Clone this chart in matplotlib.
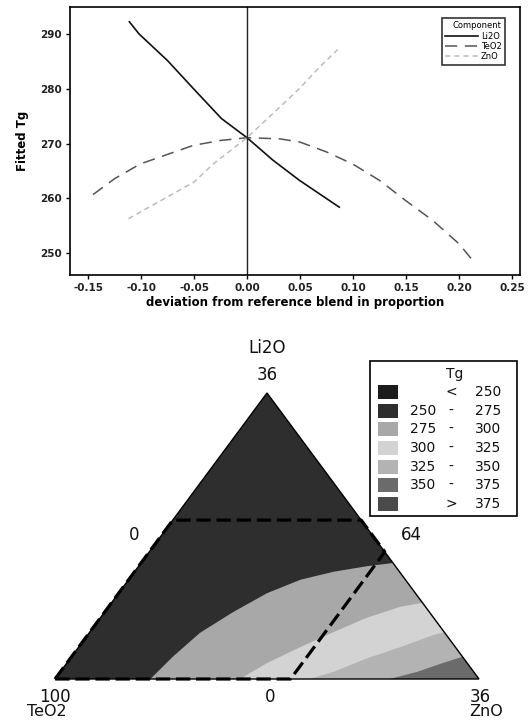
import numpy as np
import matplotlib
matplotlib.use('Agg')
import matplotlib.pyplot as plt
from matplotlib.patches import Polygon, Rectangle

plt.rcParams['font.family'] = ['DejaVu Sans']
plt.rcParams['axes.unicode_minus'] = False

# ---------------- top panel: response trace ----------------
li2o_x = [-0.111, -0.102, -0.075, -0.0507, -0.0241, 0.0, 0.0244, 0.0495, 0.087]
li2o_y = [292.3, 290.1, 285.2, 280.1, 274.6, 271.1, 267.0, 263.3, 258.4]
teo2_x = [-0.1453, -0.125, -0.1008, -0.0507, -0.025, 0.0, 0.0307, 0.05, 0.075, 0.0996, 0.125, 0.1497, 0.175, 0.2, 0.2123]
teo2_y = [260.7, 263.6, 266.3, 269.7, 270.6, 271.1, 270.9, 270.3, 268.5, 266.3, 263.3, 259.6, 256.0, 251.7, 248.8]
zno_x = [-0.1118, -0.0758, -0.05, -0.0319, 0.0, 0.0276, 0.0495, 0.0683, 0.0855]
zno_y = [256.3, 260.2, 263.0, 266.3, 271.1, 276.1, 280.1, 284.0, 287.2]
components = ['Li2O', 'TeO2', 'ZnO']
x_ticks = [-0.15, -0.10, -0.05, 0.00, 0.05, 0.10, 0.15, 0.20, 0.25]
y_ticks = [250, 260, 270, 280, 290]

# ---------------- bottom panel: ternary contour ----------------
# band boundaries given as (Li2O %, ZnO %) ; TeO2 = 100 - Li2O - ZnO
b275_li = [0, 2.8, 5.8, 8.4, 10.8, 12.5, 13.5, 14.2, 14.6]
b275_zn = [8.1, 8.6, 9.4, 10.9, 12.6, 14.6, 16.9, 19.4, 21.4]
b300_li = [0, 2.0, 4.0, 5.9, 7.7, 9.1, 9.6]
b300_zn = [15.7, 17.0, 18.8, 20.7, 22.6, 24.8, 26.4]
b325_li = [0, 0.9, 2.6, 4.0, 5.5, 5.9]
b325_zn = [21.6, 23.2, 25.2, 27.3, 29.3, 30.1]
b350_li = [0, 0.9, 2.0, 2.8]
b350_zn = [28.4, 30.3, 31.9, 33.2]
# constraint region (Li2O %, ZnO %)
con_li = [0, 20, 20, 16, 0]
con_zn = [0, 0, 16, 20, 20]

tg_left = ['', '250', '275', '300', '325', '350', '']
tg_mid = ['<', '-', '-', '-', '-', '-', '>']
tg_right = ['250', '275', '300', '325', '350', '375', '375']
tg_colors = ['#1c1c1c', '#2e2e2e', '#a8a8a8', '#d3d3d3', '#b3b3b3', '#6b6b6b', '#4a4a4a']

W, H = 531, 722
fig = plt.figure(figsize=(W / 100, H / 100), dpi=100)


def fbox(l, t, r, b):
    return [l / W, 1 - b / H, (r - l) / W, (b - t) / H]


ax = fig.add_axes(fbox(70, 7, 520, 275))
ax.plot(li2o_x, li2o_y, color='#111111', lw=1.2, label=components[0])
ax.plot(teo2_x, teo2_y, color='#555555', lw=1.1, dashes=(8, 5), label=components[1])
ax.plot(zno_x, zno_y, color='#bdbdbd', lw=1.1, dashes=(3.5, 2.5), label=components[2])
ax.axvline(0, color='#222222', lw=1.0)
ax.set_xlim(-0.167, 0.2575)
ax.set_ylim(246, 295)
ax.set_xticks(x_ticks)
ax.set_xticklabels(['%.2f' % v for v in x_ticks])
ax.set_yticks(y_ticks)
ax.tick_params(direction='out', length=3, width=1, labelsize=7.5, pad=3)
for t in ax.get_xticklabels() + ax.get_yticklabels():
    t.set_fontweight('bold')
    t.set_color('#222222')
for s in ax.spines.values():
    s.set_linewidth(1.2)
ax.set_xlabel('deviation from reference blend in proportion', fontsize=8.5, fontweight='bold', labelpad=2)
ax.set_ylabel('Fitted Tg', fontsize=8.5, fontweight='bold', labelpad=8)
leg = ax.legend(title='Component', loc='upper right', bbox_to_anchor=(0.9756, 0.974),
                fontsize=6, title_fontsize=6, frameon=True, fancybox=False,
                handlelength=4.0, borderpad=0.4, labelspacing=0.15, handletextpad=0.3)
leg.get_frame().set_edgecolor('black')
leg.get_frame().set_linewidth(1.2)
leg._legend_box.align = 'right'

# ternary axes (pseudo coordinates)
tx = fig.add_axes(fbox(55, 393, 479, 679))
tx.set_xlim(0, 1)
tx.set_ylim(0, 1)
tx.axis('off')


def tern(li, zn):
    li = np.asarray(li, float)
    zn = np.asarray(zn, float)
    y = li / 36.0
    x = zn / 36.0 + y / 2.0
    return np.column_stack([x, y])


tri = tern([0, 0, 36], [0, 36, 0])
tx.add_patch(Polygon(tri, closed=True, facecolor=tg_colors[1], edgecolor='none', zorder=1))
bands = [(b275_li, b275_zn, tg_colors[2]), (b300_li, b300_zn, tg_colors[3]),
         (b325_li, b325_zn, tg_colors[4]), (b350_li, b350_zn, tg_colors[5])]
for i, (bl, bz, c) in enumerate(bands):
    pts = np.vstack([tern(bl, bz), tern([0], [36])])
    tx.add_patch(Polygon(pts, closed=True, facecolor=c, edgecolor='none', zorder=2 + i))
tx.add_patch(Polygon(tri, closed=True, facecolor='none', edgecolor='black', lw=1.0, zorder=8, clip_on=False))
con = tern(con_li, con_zn)
con = np.vstack([con, con[:1]])
tx.plot(con[:, 0], con[:, 1], color='black', lw=2.3, dashes=(4.5, 1.8), zorder=9, clip_on=False)

# overlay in pixel coordinates for labels and legend
ov = fig.add_axes([0, 0, 1, 1])
ov.set_xlim(0, W)
ov.set_ylim(H, 0)
ov.axis('off')

lab = dict(fontsize=12, color='#111111', ha='center', va='center')
ov.text(267, 348, 'Li2O', **lab)
ov.text(267, 375, '36', **lab)
ov.text(134, 535, '0', **lab)
ov.text(411, 535, '64', **lab)
ov.text(55, 697, '100', **lab)
ov.text(270, 697, '0', **lab)
ov.text(480, 697, '36', **lab)
lab2 = dict(fontsize=11.5, color='#111111', ha='center', va='center')
ov.text(47, 712, 'TeO2', **lab2)
ov.text(486, 712, 'ZnO', **lab2)

ov.add_patch(Rectangle((370, 361), 147, 155, facecolor='white', edgecolor='black', lw=1.2))
ov.text(455, 374, 'Tg', fontsize=10, ha='center', va='center', color='#111111')
rows_y = [392, 411, 429, 448, 467, 485, 504]
for yy, l, m, r, c in zip(rows_y, tg_left, tg_mid, tg_right, tg_colors):
    ov.add_patch(Rectangle((378, yy - 7), 20, 14, facecolor=c, edgecolor='none'))
    ov.text(423, yy, l, fontsize=10, ha='center', va='center', color='#111111')
    ov.text(451, yy, m, fontsize=10, ha='center', va='center', color='#111111')
    ov.text(488, yy, r, fontsize=10, ha='center', va='center', color='#111111')

fig.savefig('out.png', dpi=100)
